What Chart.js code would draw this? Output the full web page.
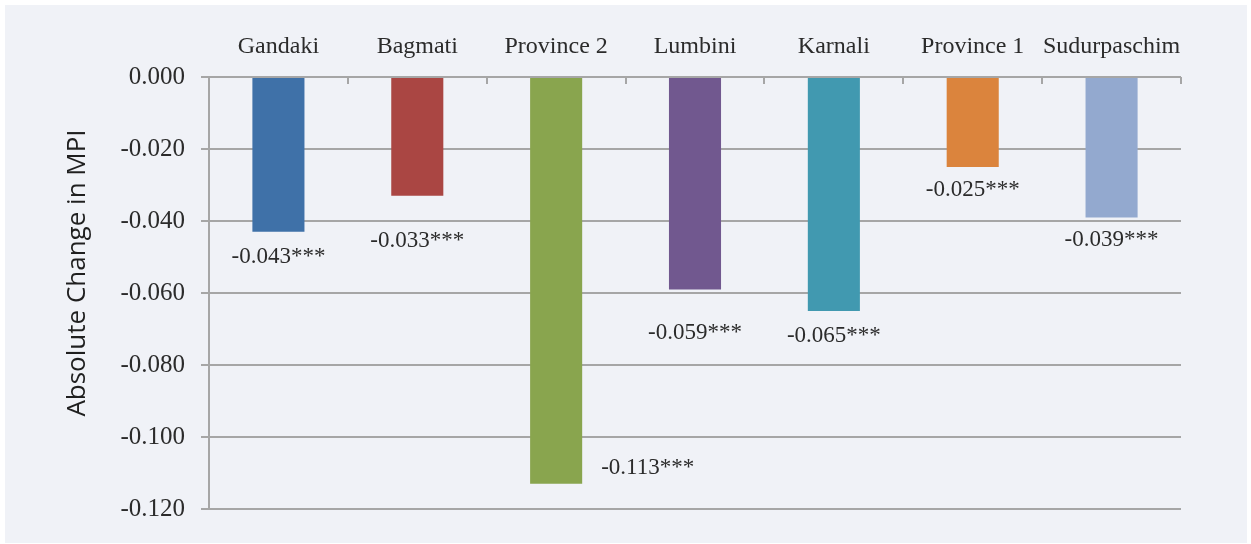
<!DOCTYPE html>
<html>
<head>
<meta charset="utf-8">
<script src="https://cdn.jsdelivr.net/npm/chart.js@4.4.1/dist/chart.umd.min.js"></script>
<style>
    body { margin: 0; background: #ffffff; }
    .wrap {
        position: absolute; left: 5px; top: 5px;
        width: 1242px; height: 538px;
        background: #F0F2F7;
    }
</style>
</head>
<body>
<div class="wrap"><canvas id="mpiChart"></canvas></div>
<script>
const provinces = ['Gandaki', 'Bagmati', 'Province 2', 'Lumbini', 'Karnali', 'Province 1', 'Sudurpaschim'];
const mpiChange = [-0.043, -0.033, -0.113, -0.059, -0.065, -0.025, -0.039];
const significance = ['***', '***', '***', '***', '***', '***', '***'];
const barColors = ['#3F71A8', '#AA4643', '#89A54E', '#71588F', '#4199B0', '#DB843D', '#93A9CF'];
const yMin = -0.12, yMax = 0, yStep = 0.02;

const serif = '"Liberation Serif", serif';
const gridGrey = '#A6A6A6';

Chart.defaults.font.family = serif;
Chart.defaults.color = '#2b2b2b';

// data labels: under the bar end, Province 2 sits to the right of it
const valueLabels = {
    id: 'valueLabels',
    afterDatasetsDraw(chart) {
        const ctx = chart.ctx;
        const meta = chart.getDatasetMeta(0);
        const drop = [25, 45, 0, 44, 25, 23, 23];
        ctx.save();
        ctx.font = '23px ' + serif;
        ctx.fillStyle = '#2b2b2b';
        ctx.textBaseline = 'middle';
        meta.data.forEach((bar, i) => {
            const txt = mpiChange[i].toFixed(3) + significance[i];
            if (i === 2) {
                ctx.textAlign = 'left';
                ctx.fillText(txt, bar.x + bar.width / 2 + 19, bar.y - 16);
            } else {
                ctx.textAlign = 'center';
                ctx.fillText(txt, bar.x, bar.y + drop[i]);
            }
        });
        ctx.restore();
    }
};

// axis title and the small category-boundary ticks hanging below the zero line
const axisExtras = {
    id: 'axisExtras',
    afterDraw(chart) {
        const ctx = chart.ctx;
        const x = chart.scales.x, y = chart.scales.y;
        const half = (x.getPixelForValue(1) - x.getPixelForValue(0)) / 2;
        const top = y.getPixelForValue(0);
        ctx.save();
        ctx.strokeStyle = gridGrey;
        ctx.lineWidth = 2;
        for (let i = 0; i < provinces.length; i++) {
            const px = Math.round(x.getPixelForValue(i) + half);
            ctx.beginPath();
            ctx.moveTo(px, top);
            ctx.lineTo(px, top + 7);
            ctx.stroke();
        }
        ctx.translate(73, 268);
        ctx.rotate(-Math.PI / 2);
        ctx.font = '26px "Open Sans", Lato, sans-serif';
        ctx.fillStyle = '#1f1f1f';
        ctx.textAlign = 'center';
        ctx.textBaseline = 'middle';
        ctx.fillText('Absolute Change in MPI', 0, 0);
        ctx.restore();
    }
};

new Chart(document.getElementById('mpiChart'), {
    type: 'bar',
    data: {
        labels: provinces,
        datasets: [{
            label: 'Absolute Change in MPI',
            data: mpiChange,
            backgroundColor: barColors,
            borderWidth: 0,
            categoryPercentage: 1,
            barPercentage: 0.375
        }]
    },
    options: {
        responsive: true,
        maintainAspectRatio: false,
        animation: false,
        layout: { padding: { top: 0, right: 66, bottom: 34, left: 0 } },
        scales: {
            x: {
                position: 'top',
                grid: { display: false },
                border: { display: false },
                ticks: {
                    font: { size: 24 },
                    padding: 8,
                    maxRotation: 0,
                    autoSkip: false
                },
                afterFit(scale) { scale.height = 72; }
            },
            y: {
                min: yMin,
                max: yMax,
                grid: {
                    color: gridGrey,
                    lineWidth: 2,
                    tickLength: 8
                },
                border: { color: gridGrey, width: 2 },
                ticks: {
                    stepSize: yStep,
                    font: { size: 25 },
                    padding: 16,
                    callback: v => v.toFixed(3)
                },
                afterFit(scale) { scale.width = 204; }
            }
        },
        plugins: {
            legend: { display: false },
            tooltip: { enabled: false }
        }
    },
    plugins: [valueLabels, axisExtras]
});
</script>
</body>
</html>
